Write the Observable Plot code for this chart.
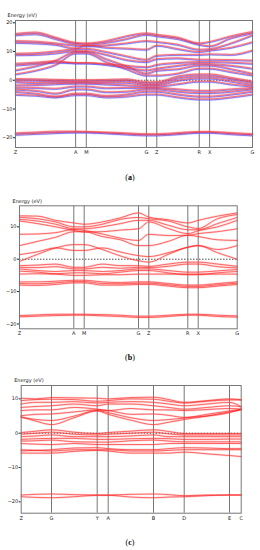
<!DOCTYPE html>
<html><head><meta charset="utf-8">
<script src="https://cdn.jsdelivr.net/npm/d3@7"></script>
<script src="https://cdn.jsdelivr.net/npm/@observablehq/plot@0.6"></script>
<style>
body{margin:0;background:#fff;}
#root{position:relative;width:260px;height:550px;overflow:hidden;font-family:"DejaVu Sans",sans-serif;}
.panel{position:absolute;left:0;}
.cap{position:absolute;left:0;width:260px;text-align:center;font-family:"Liberation Serif",serif;font-size:8px;line-height:10px;}
</style></head><body><div id="root"></div>
<script>
// ---------- Panel (a) ----------
const aKpos = [0, 60.3, 71, 131.3, 141.7, 184.3, 194.7, 237.7];
const aKlabels = ["Z", "A", "M", "G", "Z", "R", "X", "G"];
const aSamples = [0, 20.3, 40.3, 60.3, 71, 91, 111.3, 131.3, 141.7, 163, 184.3, 194.7, 216.3, 237.7];
const aYTicks = [-20, -10, 0, 10, 20];
const aBands = [
  [16.3, 16.8, 15.0, 13.2, 13.0, 13.8, 15.5, 16.5, 16.0, 15.0, 13.0, 13.5, 15.5, 17.0],
  [15.8, 16.2, 14.5, 12.8, 12.6, 13.2, 14.5, 16.0, 15.5, 14.5, 12.5, 12.0, 14.8, 16.5],
  [13.8, 13.6, 13.0, 12.2, 12.0, 12.3, 13.0, 13.8, 13.5, 12.5, 10.8, 11.0, 13.0, 15.8],
  [13.2, 13.0, 12.5, 11.2, 12.3, 11.5, 11.2, 10.8, 12.2, 11.0, 10.0, 10.5, 11.5, 13.4],
  [9.4, 9.6, 10.2, 11.0, 11.1, 10.0, 8.5, 7.3, 8.7, 9.0, 9.0, 9.2, 9.0, 10.5],
  [8.9, 9.0, 9.5, 10.3, 10.3, 9.0, 7.2, 6.5, 7.5, 7.8, 7.3, 7.3, 7.2, 7.0],
  [5.9, 6.3, 6.8, 6.1, 6.1, 5.8, 5.2, 4.7, 5.5, 6.2, 6.5, 6.5, 6.3, 5.9],
  [5.3, 5.8, 6.3, 6.1, 6.1, 5.5, 4.5, 3.6, 4.2, 5.2, 5.9, 5.8, 5.2, 4.2],
  [3.6, 5.0, 7.0, 10.0, 10.0, 7.5, 5.0, 2.5, 3.5, 4.0, 5.3, 5.3, 4.0, 2.4],
  [2.2, 3.5, 5.5, 9.5, 9.5, 6.5, 4.0, 1.8, 1.8, 2.5, 4.2, 4.2, 3.0, 1.8],
  [0.6, 0.5, 0.3, 0.2, 0.2, 0.3, 0.5, -0.5, -0.5, 1.5, 2.2, 2.2, 1.0, -0.3],
  [0.1, 0.0, -0.2, -0.3, -0.3, -0.2, 0.0, -1.0, -1.0, 0.8, 1.5, 1.5, 0.5, -0.8],
  [-0.5, -0.8, -0.6, -0.6, -0.6, -0.7, -0.7, -1.5, -1.5, 0.0, 0.8, 0.8, -0.3, -1.5],
  [-1.6, -1.5, -1.2, -1.0, -1.0, -1.3, -1.6, -2.0, -2.0, -1.2, -0.3, -0.3, -1.3, -2.0],
  [-2.4, -2.5, -2.8, -2.0, -2.0, -2.6, -2.5, -2.5, -2.5, -3.0, -3.5, -3.5, -3.0, -2.5],
  [-3.1, -3.5, -4.5, -3.0, -3.0, -4.0, -3.8, -3.0, -3.0, -3.8, -4.3, -4.3, -3.8, -3.0],
  [-3.9, -4.5, -5.5, -4.5, -4.5, -5.3, -4.8, -3.8, -3.8, -4.8, -5.5, -5.5, -4.8, -3.8],
  [-4.9, -5.2, -5.8, -5.0, -5.0, -5.8, -5.5, -4.8, -4.8, -5.8, -6.5, -6.5, -5.8, -4.8],
  [-18.3, -18.0, -17.7, -17.7, -17.8, -18.0, -18.3, -18.6, -18.6, -18.2, -17.8, -17.8, -18.2, -18.6],
  [-18.8, -18.5, -18.2, -18.0, -18.0, -18.3, -18.7, -19.0, -19.0, -18.6, -18.1, -18.1, -18.6, -19.0]
];

// ---------- Panel (b) ----------
const bKpos = [0, 54.3, 64.7, 119, 129.3, 168.3, 178.7, 217.7];
const bKlabels = ["Z", "A", "M", "G", "Z", "R", "X", "G"];
const bSamples = [0, 18, 36.3, 54.3, 64.7, 82.7, 101, 119, 129.3, 148.7, 168.3, 178.7, 198, 217.7];
const bYTicks = [-20, -10, 0, 10];
const bBands = [
  [13.4, 13.3, 12.0, 11.2, 10.8, 11.5, 12.8, 14.3, 13.0, 12.2, 11.2, 12.0, 13.3, 14.3],
  [12.9, 12.5, 11.5, 10.0, 10.0, 10.8, 12.3, 12.9, 12.5, 11.8, 10.0, 9.5, 12.5, 13.8],
  [12.3, 11.8, 10.8, 9.4, 9.4, 10.0, 11.0, 12.0, 12.0, 10.5, 9.1, 9.1, 11.0, 12.9],
  [11.8, 11.0, 10.0, 8.9, 8.4, 8.5, 9.0, 9.4, 11.5, 9.5, 7.9, 8.8, 10.0, 12.0],
  [7.7, 7.8, 8.2, 9.2, 8.9, 7.8, 6.5, 5.8, 7.7, 7.3, 7.4, 7.9, 8.5, 9.4],
  [4.2, 5.5, 6.8, 8.5, 8.5, 7.0, 6.0, 4.2, 4.2, 5.5, 7.4, 7.0, 6.0, 5.8],
  [1.4, 2.3, 3.5, 2.7, 2.7, 3.5, 2.2, 1.1, 0.8, 2.0, 3.7, 4.2, 3.0, 4.2],
  [-0.7, 1.5, 3.5, 4.5, 4.5, 3.0, 1.0, -0.5, -0.9, 1.5, 3.7, 4.2, 2.0, 0.0],
  [-2.0, -1.8, -1.5, -2.5, -2.5, -1.5, -2.0, -2.0, -2.2, -1.5, -0.9, -0.9, -1.5, -2.2],
  [-2.5, -2.6, -2.3, -3.0, -3.0, -2.5, -2.8, -2.5, -2.6, -2.2, -1.5, -1.5, -2.3, -2.7],
  [-3.0, -3.5, -3.8, -3.5, -3.5, -3.8, -3.5, -3.0, -3.0, -3.5, -4.0, -4.0, -3.6, -3.2],
  [-3.7, -4.0, -4.5, -4.2, -4.2, -4.5, -4.0, -3.5, -3.5, -4.2, -4.8, -4.8, -4.2, -3.8],
  [-4.6, -4.5, -4.6, -5.0, -5.0, -4.8, -4.8, -4.6, -4.6, -4.6, -4.6, -4.6, -4.6, -4.6],
  [-7.0, -7.0, -6.8, -6.5, -6.5, -7.0, -7.2, -7.0, -7.0, -7.5, -8.0, -8.0, -7.5, -7.0],
  [-7.5, -7.6, -7.3, -6.9, -6.9, -7.5, -7.6, -7.4, -7.4, -7.9, -8.4, -8.4, -7.9, -7.4],
  [-8.0, -8.1, -7.8, -7.3, -7.3, -8.0, -8.0, -7.8, -7.8, -8.3, -8.8, -8.8, -8.3, -7.8],
  [-17.4, -17.2, -17.0, -17.0, -17.0, -17.1, -17.3, -17.6, -17.6, -17.3, -17.0, -17.0, -17.3, -17.5],
  [-17.8, -17.6, -17.4, -17.3, -17.3, -17.5, -17.7, -18.0, -18.0, -17.7, -17.3, -17.3, -17.7, -17.9]
];

// ---------- Panel (c) ----------
const cKpos = [0, 30.3, 76, 87, 132.3, 163, 208.3, 220];
const cKlabels = ["Z", "G", "Y", "A", "B", "D", "E", "C"];
const cSamples = [0, 15, 30.3, 53, 76, 87, 109.7, 132.3, 147.7, 163, 185.7, 208.3, 220];
const cYTicks = [-20, -10, 0, 10];
const cBands = [
  [10.2, 10.0, 10.4, 10.3, 10.2, 10.0, 10.4, 10.5, 9.8, 9.0, 9.5, 10.0, 9.7],
  [9.5, 9.8, 9.9, 9.8, 9.3, 9.5, 10.0, 9.9, 9.3, 8.8, 9.3, 9.7, 9.7],
  [8.5, 9.0, 9.0, 9.2, 8.8, 9.0, 9.2, 9.0, 8.5, 8.0, 8.5, 9.0, 7.7],
  [7.5, 7.8, 8.0, 8.5, 8.0, 8.5, 8.5, 8.0, 7.5, 7.0, 7.5, 8.0, 7.7],
  [6.6, 6.8, 6.8, 7.5, 7.0, 6.6, 7.2, 6.8, 6.8, 6.6, 6.9, 7.2, 7.0],
  [5.1, 5.5, 5.6, 6.2, 6.8, 6.6, 5.5, 5.6, 5.2, 4.6, 5.0, 6.0, 7.0],
  [4.6, 4.0, 3.7, 5.0, 6.6, 6.0, 4.5, 3.7, 4.0, 4.4, 5.5, 6.5, 7.0],
  [4.8, 3.5, 2.5, 4.5, 6.5, 5.5, 3.8, 2.5, 3.2, 4.0, 5.0, 6.2, 6.8],
  [0.2, 0.6, 1.0, 0.3, -0.1, 0.2, 0.6, 1.0, 0.5, -0.1, -0.1, -0.1, -0.1],
  [-0.3, 0.0, 0.3, -0.3, -0.5, -0.3, 0.0, 0.3, -0.2, -0.5, -0.5, -0.5, -0.5],
  [-1.0, -0.8, -0.5, -1.0, -1.0, -1.0, -0.8, -0.5, -1.0, -1.0, -1.0, -1.0, -1.0],
  [-1.8, -1.6, -1.5, -1.5, -1.8, -1.8, -1.6, -1.5, -1.6, -1.8, -1.8, -1.7, -1.7],
  [-2.3, -2.2, -2.0, -2.5, -2.6, -2.6, -2.2, -2.0, -2.3, -2.5, -2.5, -2.5, -2.5],
  [-3.0, -3.2, -3.3, -3.0, -3.3, -3.3, -3.3, -3.3, -3.0, -3.0, -3.0, -3.0, -3.0],
  [-4.8, -5.0, -4.8, -4.3, -4.2, -4.5, -4.8, -4.8, -4.5, -4.2, -4.3, -4.5, -4.5],
  [-5.2, -5.0, -5.2, -4.8, -4.8, -4.8, -5.2, -5.2, -5.0, -4.8, -4.8, -4.8, -4.8],
  [-5.8, -5.8, -5.8, -5.3, -5.0, -5.2, -5.8, -5.8, -5.8, -5.5, -6.0, -6.5, -6.8],
  [-18.0, -17.8, -17.7, -17.9, -18.0, -18.0, -17.8, -17.7, -17.9, -18.2, -18.0, -18.0, -18.0],
  [-18.5, -18.7, -18.8, -18.5, -18.1, -18.1, -18.6, -18.8, -18.6, -18.5, -18.2, -18.0, -18.0]
];

const FONT = "DejaVu Sans, sans-serif";

function toRows(bands, samples) {
  return bands.flatMap((b, bi) => b.map((e, j) => ({k: samples[j], e, band: bi})));
}

function panel(cfg) {
  const rows = toRows(cfg.bands, cfg.samples);
  const labelOf = new Map(cfg.kpos.map((k, i) => [k, cfg.klabels[i]]));
  const marks = [
    Plot.ruleY([0], {stroke: "#222", strokeDasharray: "1.5,1.5", strokeWidth: 0.8}),
    Plot.ruleX(cfg.kpos.slice(1, -1), {stroke: "#777", strokeWidth: 1})
  ];
  if (cfg.spin) {
    marks.push(
      Plot.line(rows, {x: "k", y: "e", z: "band", curve: "monotone-x", stroke: "#9a9aff", strokeWidth: 2.2, strokeOpacity: 0.3, dy: 1}),
      Plot.line(rows, {x: "k", y: "e", z: "band", curve: "monotone-x", stroke: "#3333ff", strokeWidth: 0.7, strokeOpacity: 0.9, dy: 1})
    );
  }
  marks.push(
    Plot.line(rows, {x: "k", y: "e", z: "band", curve: "monotone-x", stroke: "#ff8a8a", strokeWidth: 2.2, strokeOpacity: 0.3}),
    Plot.line(rows, {x: "k", y: "e", z: "band", curve: "monotone-x", stroke: "#ff1010", strokeWidth: 0.65, strokeOpacity: cfg.spin ? 0.75 : 0.9}),
    Plot.frame({stroke: "#777", strokeWidth: 1}),
    Plot.text(["Energy (eV)"], {frameAnchor: "top-left", dx: cfg.ldx, dy: cfg.ldy, textAnchor: "start", fontSize: 5, fill: "#222"})
  );
  return Plot.plot({
    width: 260,
    height: cfg.height,
    marginTop: cfg.mt, marginBottom: cfg.mb, marginLeft: cfg.ml, marginRight: cfg.mr,
    style: {fontSize: "5px", fontFamily: FONT, color: "#222", background: "transparent"},
    x: {domain: [0, cfg.kpos[cfg.kpos.length - 1]], ticks: cfg.kpos, tickFormat: d => labelOf.get(d), tickSize: 0, tickPadding: 3, label: null},
    y: {domain: cfg.ydomain, ticks: cfg.yticks, tickSize: 2, tickPadding: 1, label: null},
    marks
  });
}

const root = document.getElementById("root");
function place(node, top) {
  node.classList.add("panel");
  node.style.top = top + "px";
  root.appendChild(node);
}
place(panel({bands: aBands, samples: aSamples, kpos: aKpos, klabels: aKlabels, yticks: aYTicks,
  ydomain: [-23.4, 20.8], height: 165, mt: 20, mb: 18, ml: 15, mr: 8, ldx: -8, ldy: -7, spin: true}), 0);
place(panel({bands: bBands, samples: bSamples, kpos: bKpos, klabels: bKlabels, yticks: bYTicks,
  ydomain: [-21.5, 16.5], height: 150, mt: 15.3, mb: 11.7, ml: 19, mr: 23.3, ldx: -7, ldy: -6, spin: false}), 190);
place(panel({bands: cBands, samples: cSamples, kpos: cKpos, klabels: cKlabels, yticks: cYTicks,
  ydomain: [-23.3, 13.9], height: 155, mt: 15, mb: 12.3, ml: 20.7, mr: 19.3, ldx: -7, ldy: -7, spin: false}), 370);

[["a", 173], ["b", 353], ["c", 538]].forEach(([t, top]) => {
  const d = document.createElement("div");
  d.className = "cap";
  d.style.top = top + "px";
  d.innerHTML = "(<b>" + t + "</b>)";
  root.appendChild(d);
});
</script></body></html>
